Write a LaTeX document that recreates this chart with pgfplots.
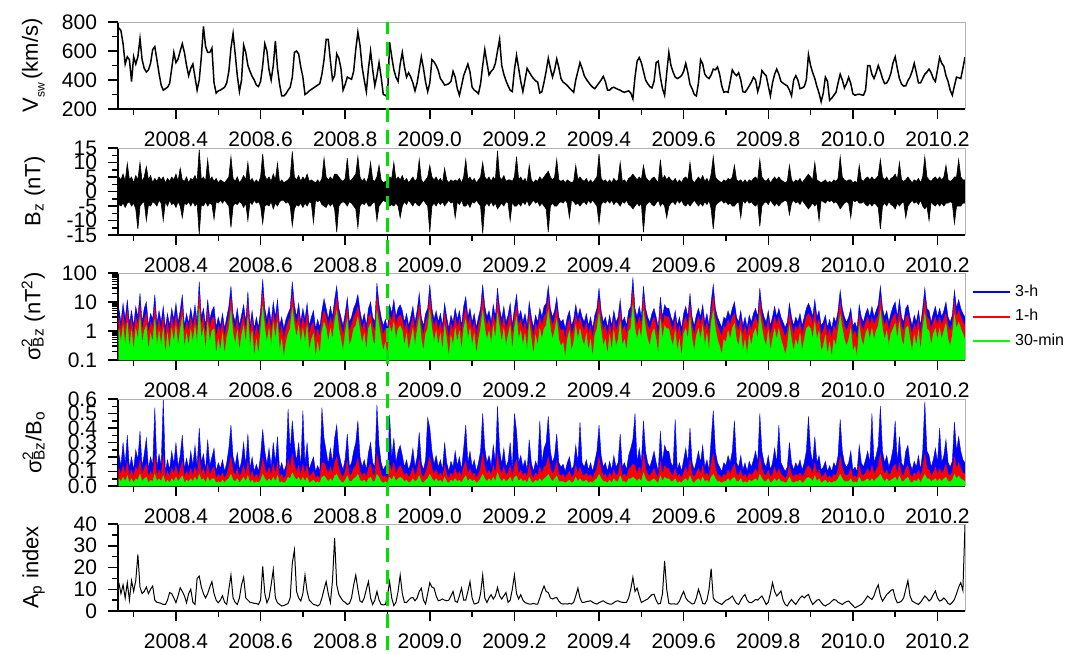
\documentclass[border=0pt]{standalone}
\usepackage{fontspec}
\setmainfont{Liberation Sans}
\usepackage{pgfplots}
\usepackage{pgfplotstable}
\pgfplotsset{compat=1.18}
\definecolor{cblue}{RGB}{0,0,255}
\definecolor{cred}{RGB}{255,0,0}
\definecolor{cgreen}{RGB}{0,255,0}
\definecolor{dgreen}{RGB}{0,225,0}

\pgfplotstableread{
t V bp bn s3 s1 s30 r3 r1 r30 ap
2008.265 760 5 -4.5 6 3 1.2 0.22 0.12 0.05 13
2008.270 740 4 -5 2 1 0.4 0.14 0.08 0.03 8
2008.275 650 6 -4 9 4 1.5 0.3 0.14 0.06 12
2008.280 510 3.5 -5.5 2.5 1.2 0.3 0.15 0.08 0.03 6
2008.285 560 9.7 -4 12 5 2 0.35 0.16 0.07 13
2008.290 540 4 -3.5 1.8 0.9 0.25 0.12 0.06 0.02 5
2008.295 390 5 -5 5 2.5 1 0.2 0.11 0.05 14
2008.300 560 3 -4 1.5 0.7 0.2 0.11 0.06 0.02 9
2008.305 510 5.5 -6 7 3 1.2 0.25 0.13 0.05 14
2008.310 560 4 -13 3 1.5 0.5 0.18 0.1 0.04 26
2008.315 685 10 -5 20 8 3 0.38 0.18 0.08 11
2008.320 540 3.5 -4 2 1 0.35 0.13 0.07 0.03 8
2008.325 480 5 -3.5 6 2.5 1 0.22 0.12 0.05 9
2008.330 455 8.6 -10 10 4 1.5 0.33 0.15 0.06 11
2008.335 470 4 -4.5 1.5 0.8 0.2 0.12 0.06 0.02 8
2008.340 515 5.5 -5 4 2 0.8 0.2 0.1 0.04 10
2008.345 610 3 -3.5 2.5 1.2 0.4 0.14 0.07 0.03 11.5
2008.350 630 4.5 -4 18 7 2.5 0.54 0.2 0.08 5
2008.355 540 3.5 -5 1.8 0.9 0.3 0.13 0.07 0.03 4
2008.360 445 5 -3 5 2.5 1 0.22 0.11 0.05 3.8
2008.365 365 4 -4 2 1 0.3 0.14 0.07 0.03 3.5
2008.370 330 5 -10 7 3 1.2 0.6 0.2 0.07 3
2008.375 340 3 -3.5 1.2 0.6 0.15 0.1 0.05 0.02 3
2008.380 350 4.5 -5 4 2 0.8 0.18 0.1 0.04 5
2008.385 375 3.5 -3 1.5 0.7 0.2 0.11 0.06 0.02 8.5
2008.390 480 5 -4.5 6 3 1.2 0.24 0.12 0.05 8
2008.395 590 4 -4 2.5 1.2 0.4 0.15 0.08 0.03 6
2008.400 520 6 -5.5 9 3.5 1.5 0.3 0.14 0.06 3.8
2008.405 545 3.5 -3.5 2 1 0.3 0.13 0.07 0.03 7
2008.410 600 8 -5 5 2.5 1 0.21 0.11 0.05 10.7
2008.415 650 4 -9 18 7 3 0.35 0.17 0.07 9
2008.420 590 3.5 -4 1.5 0.8 0.25 0.12 0.06 0.02 7
2008.425 500 5 -4.5 4 2 0.8 0.19 0.1 0.04 3.8
2008.430 430 3 -3.5 1.8 0.9 0.3 0.12 0.07 0.03 8
2008.435 480 4.5 -5 6 3 1.1 0.24 0.12 0.05 10
2008.440 510 4 -3.5 2.2 1.1 0.4 0.14 0.07 0.03 4
2008.445 420 5.5 -5 8 3.5 1.5 0.28 0.13 0.06 3
2008.450 330 3.5 -4 2 1 0.35 0.13 0.07 0.03 15
2008.455 400 14.4 -14.7 50 18 6 0.4 0.2 0.08 16
2008.460 560 4 -4.5 3 1.5 0.5 0.16 0.08 0.04 11
2008.465 770 5 -5 6 3 1.2 0.22 0.12 0.05 8
2008.470 630 3.5 -3.5 1.5 0.7 0.2 0.11 0.06 0.02 6
2008.475 590 11 -5 12 5 2 0.32 0.15 0.06 8
2008.480 590 4 -4 2.5 1.2 0.4 0.14 0.07 0.03 11
2008.485 620 5 -4.5 5 2.5 1 0.2 0.11 0.05 13.5
2008.490 380 3.5 -9.5 7 3 1.2 0.26 0.13 0.05 8
2008.495 310 4.5 -3.5 1.3 0.6 0.15 0.1 0.05 0.02 5
2008.500 325 3 -4 3 1.5 0.5 0.16 0.08 0.03 3.8
2008.505 330 4 -3 1.5 0.8 0.2 0.12 0.06 0.02 5
2008.510 340 3.5 -4 4 2 0.8 0.18 0.09 0.04 7
2008.515 350 3 -3 1.2 0.6 0.15 0.1 0.05 0.02 4
2008.520 380 4 -4 3 1.5 0.6 0.16 0.08 0.04 3
2008.525 460 5 -5 7 3 1.2 0.26 0.13 0.05 10
2008.530 620 12 -12.4 35 14 5 0.42 0.2 0.08 16.5
2008.535 720 4.5 -5 4 2 0.8 0.2 0.1 0.04 6
2008.540 580 3.5 -4 2 1 0.35 0.14 0.07 0.03 4
2008.545 430 5 -4.5 6 2.5 1 0.23 0.12 0.05 3
2008.550 320 3 -3.5 1.5 0.7 0.2 0.11 0.06 0.02 6
2008.555 400 4 -4 3.5 1.8 0.7 0.17 0.09 0.04 12
2008.560 640 5.5 -5.5 8 3.5 1.5 0.3 0.14 0.06 15.5
2008.565 590 4 -4 2 1 0.35 0.14 0.07 0.03 6
2008.570 500 10 -10 23 9 3 0.36 0.17 0.07 5
2008.575 460 3.5 -3.5 1.5 0.8 0.25 0.12 0.06 0.02 4
2008.580 425 4.5 -4.5 5 2.5 1 0.2 0.1 0.04 3.8
2008.585 400 3 -3 1.2 0.5 0.12 0.1 0.05 0.02 3.5
2008.590 365 4 -4 3 1.5 0.5 0.15 0.08 0.03 3.5
2008.595 355 3 -3.5 1.3 0.6 0.15 0.1 0.05 0.02 3
2008.600 390 5 -5 5 2.5 1 0.21 0.1 0.04 5
2008.605 500 13 -11 60 20 7 0.39 0.19 0.08 20.5
2008.610 650 5.5 -5 6 3 1.2 0.24 0.12 0.05 8
2008.615 600 4 -4.5 2.5 1.2 0.4 0.15 0.08 0.03 3.8
2008.620 470 5 -5 7 3 1.2 0.26 0.13 0.05 6
2008.625 400 3.5 -3.5 2 1 0.3 0.13 0.07 0.03 12
2008.630 500 6 -6 10 4 1.8 0.3 0.15 0.06 19
2008.635 670 4 -4 3 1.5 0.5 0.16 0.08 0.03 6
2008.640 480 9.7 -5 12 5 2 0.34 0.16 0.07 3.8
2008.645 370 3 -3.5 1.5 0.7 0.2 0.11 0.06 0.02 3
2008.650 290 4 -3 3 1.5 0.5 0.16 0.08 0.03 2.3
2008.655 290 3 -3 1.2 0.5 0.12 0.1 0.05 0.02 2.5
2008.660 305 3.5 -4 2.5 1.2 0.4 0.14 0.07 0.03 3
2008.665 330 4 -3.5 4 2 0.8 0.53 0.18 0.06 3.5
2008.670 350 5 -5 6 3 1.2 0.24 0.12 0.05 6
2008.675 420 13.8 -11.8 50 18 6 0.45 0.22 0.09 22
2008.680 590 5 -6 8 3.5 1.5 0.28 0.14 0.06 28
2008.685 600 4 -4.5 3 1.5 0.6 0.17 0.09 0.04 9
2008.690 580 5.5 -5 9 4 1.5 0.3 0.14 0.06 6
2008.695 490 3.5 -4 2 1 0.35 0.13 0.07 0.03 4.6
2008.700 420 5 -5.5 6 3 1.2 0.52 0.15 0.06 8
2008.705 300 4 -4 2.5 1.2 0.4 0.15 0.08 0.03 16.5
2008.710 310 6 -5 9 4 1.5 0.3 0.14 0.06 9
2008.715 325 3.5 -3.5 1.5 0.7 0.2 0.11 0.06 0.02 5
2008.720 335 4 -4 3 1.5 0.5 0.16 0.08 0.03 4
2008.725 345 3.5 -10.7 5 2 0.8 0.2 0.1 0.04 3
2008.730 355 3 -3 1.2 0.5 0.12 0.1 0.05 0.02 2.8
2008.735 365 4 -3.5 2.5 1.2 0.4 0.14 0.07 0.03 2.3
2008.740 375 3 -3 1.3 0.6 0.15 0.1 0.05 0.02 3
2008.745 440 4.5 -4.5 5 2.5 1 0.54 0.16 0.06 6
2008.750 540 11.5 -5 13 5 2 0.33 0.16 0.07 10
2008.755 680 5 -5.5 6 3 1.2 0.24 0.12 0.05 13.5
2008.760 680 4 -4 2.5 1.2 0.4 0.15 0.08 0.03 8
2008.765 535 5 -5 7 3 1.2 0.26 0.13 0.05 3.8
2008.770 400 4 -4 3 1.5 0.5 0.16 0.08 0.03 14
2008.775 430 6 -6 12 5 2 0.33 0.16 0.07 33.5
2008.780 580 6 -14 35 14 5 0.42 0.2 0.08 12
2008.785 550 5 -5 6 3 1.2 0.23 0.12 0.05 7.6
2008.790 480 4 -4 3 1.5 0.5 0.16 0.08 0.03 6
2008.795 330 3.5 -3.5 1.5 0.7 0.2 0.11 0.06 0.02 4.6
2008.800 370 4.5 -4 4 2 0.8 0.19 0.1 0.04 4
2008.805 420 11.5 -5 14 6 2.5 0.36 0.17 0.07 3
2008.810 412 3.5 -3.5 2 1 0.3 0.13 0.07 0.03 3.5
2008.815 405 4 -4 3 1.5 0.5 0.16 0.08 0.03 6
2008.820 460 5 -5 6 3 1.2 0.24 0.12 0.05 12
2008.825 610 6 -6 9 4 1.5 0.3 0.14 0.06 16.5
2008.830 730 12 -12.4 18 7 3 0.45 0.19 0.08 10
2008.835 640 5 -5 5 2.5 1 0.2 0.1 0.04 4.6
2008.840 490 3.5 -4 2 1 0.35 0.13 0.07 0.03 4
2008.845 400 4.5 -4.5 4 2 0.8 0.18 0.09 0.04 6
2008.850 320 3 -3.5 1.5 0.7 0.2 0.11 0.06 0.02 10
2008.855 480 5 -5 6 3 1.2 0.23 0.12 0.05 13.5
2008.860 600 10 -5 10 4 1.8 0.3 0.15 0.06 6
2008.865 470 4 -4 3 1.5 0.5 0.16 0.08 0.03 3
2008.870 360 3.5 -3.5 2 1 0.3 0.13 0.07 0.03 5
2008.875 430 5 -10 45 16 5 0.56 0.22 0.08 9
2008.880 520 9 -5 8 3.5 1.5 0.28 0.14 0.06 5
2008.885 420 4 -4 3 1.5 0.5 0.16 0.08 0.03 3
2008.890 300 3 -3 1.5 0.7 0.2 0.11 0.06 0.02 2.8
2008.895 295 3.5 -3.5 2.5 1.2 0.4 0.14 0.07 0.03 3
2008.900 280 3 -3 1.2 0.5 0.12 0.1 0.05 0.02 7
2008.905 660 5 -5 8 3.5 1.5 0.49 0.15 0.06 13.5
2008.910 560 4.5 -4.5 4 2 0.8 0.19 0.1 0.04 6
2008.915 470 10 -5 12 5 2 0.33 0.16 0.07 2.5
2008.920 420 4 -4 3 1.5 0.5 0.16 0.08 0.03 4
2008.925 390 5 -5 6 3 1.2 0.24 0.12 0.05 9
2008.930 510 4 -9 8 3.5 1.5 0.28 0.14 0.06 16.5
2008.935 590 5.5 -5 5 2.5 1 0.21 0.11 0.05 8
2008.940 490 3.5 -3.5 2 1 0.3 0.13 0.07 0.03 4
2008.945 420 4.5 -4.5 4 2 0.8 0.18 0.09 0.04 3.9
2008.950 450 3 -3 1.5 0.7 0.2 0.11 0.06 0.02 5
2008.955 420 4 -4 3 1.5 0.5 0.16 0.08 0.03 6
2008.960 380 5 -5 7 3 1.2 0.26 0.13 0.05 6.2
2008.965 325 3.5 -3.5 2 1 0.3 0.13 0.07 0.03 4.7
2008.970 380 4.5 -4.5 5 2.5 1 0.2 0.1 0.04 6
2008.975 470 11 -5 20 8 3 0.37 0.18 0.07 9
2008.980 560 4 -4 3 1.5 0.5 0.16 0.08 0.03 10.5
2008.985 480 3 -3 1.5 0.7 0.2 0.11 0.06 0.02 5
2008.990 385 4 -4 4 2 0.8 0.18 0.09 0.04 3.2
2008.995 320 5 -5 6 3 1.2 0.47 0.14 0.05 8
2009.000 380 9 -14 40 15 5 0.4 0.2 0.08 13
2009.005 540 5 -5 6 3 1.2 0.24 0.12 0.05 11
2009.010 525 4 -4 2.5 1.2 0.4 0.15 0.08 0.03 10.5
2009.015 500 5 -5 5 2.5 1 0.21 0.11 0.05 7
2009.020 465 3.5 -3.5 2 1 0.3 0.13 0.07 0.03 4.7
2009.025 410 4.5 -4.5 4 2 0.8 0.18 0.09 0.04 5
2009.030 390 3 -3.5 1.5 0.7 0.2 0.11 0.06 0.02 5.5
2009.035 365 8 -5 9 4 1.5 0.3 0.14 0.06 5
2009.040 368 4 -4 3 1.5 0.5 0.16 0.08 0.03 4.7
2009.045 375 3 -3 1.2 0.5 0.12 0.1 0.05 0.02 5
2009.050 390 4 -4 3.5 1.8 0.7 0.17 0.09 0.04 7
2009.055 460 3.5 -3.5 2 1 0.3 0.13 0.07 0.03 9
2009.060 420 4 -9 6 3 1.2 0.24 0.12 0.05 4.5
2009.065 340 3.5 -3.5 2.5 1.2 0.4 0.14 0.07 0.03 4
2009.070 295 4.5 -4.5 5 2.5 1 0.2 0.1 0.04 7
2009.075 360 3 -3 1.5 0.7 0.2 0.11 0.06 0.02 10.5
2009.080 430 5 -5 7 3 1.2 0.26 0.13 0.05 5
2009.085 470 11 -5 15 6 2.5 0.42 0.17 0.07 5
2009.090 510 4 -4 3 1.5 0.5 0.16 0.08 0.03 9
2009.095 455 5 -5.5 6 3 1.2 0.24 0.12 0.05 13.5
2009.100 350 3.5 -3.5 2 1 0.3 0.13 0.07 0.03 6
2009.105 330 4.5 -4 4 2 0.8 0.18 0.09 0.04 3.2
2009.110 320 3 -3 1.3 0.6 0.15 0.1 0.05 0.02 3.5
2009.115 305 4 -4 3 1.5 0.5 0.16 0.08 0.03 3.9
2009.120 375 5 -5 6 3 1.2 0.24 0.12 0.05 8
2009.125 500 10 -14.5 40 15 5 0.5 0.22 0.08 16.5
2009.130 610 5 -5 7 3 1.2 0.26 0.13 0.05 6
2009.135 520 4 -4 3 1.5 0.5 0.16 0.08 0.03 3.9
2009.140 435 5 -5 5 2.5 1 0.21 0.11 0.05 6
2009.145 460 3.5 -3.5 2 1 0.35 0.14 0.07 0.03 7.5
2009.150 475 5 -5 8 3.5 1.5 0.28 0.14 0.06 5.5
2009.155 515 4 -4 3 1.5 0.5 0.16 0.08 0.03 7
2009.160 600 14 -6 30 12 4 0.55 0.22 0.09 10.8
2009.165 680 5 -5 6 3 1.2 0.25 0.12 0.05 7
2009.170 500 4 -4 2.5 1.2 0.4 0.15 0.08 0.03 5.5
2009.175 440 5.5 -5 7 3 1.2 0.26 0.13 0.05 7
2009.180 395 3.5 -3.5 2 1 0.3 0.13 0.07 0.03 8.5
2009.185 360 4 -4 3.5 1.8 0.7 0.17 0.09 0.04 4
2009.190 330 4 -10 9 4 1.5 0.3 0.14 0.06 5
2009.195 320 3.5 -3.5 1.5 0.7 0.2 0.11 0.06 0.02 10
2009.200 470 5 -5 6 3 1.2 0.5 0.14 0.06 16.5
2009.205 570 12 -5 18 7 3 0.38 0.18 0.07 8
2009.210 480 4 -4 3 1.5 0.5 0.16 0.08 0.03 5.5
2009.215 390 5 -5 5 2.5 1 0.21 0.11 0.05 7.5
2009.220 320 3.5 -3.5 2 1 0.3 0.13 0.07 0.03 5
2009.225 400 4.5 -4.5 4 2 0.8 0.18 0.09 0.04 3.9
2009.230 480 3 -3 1.5 0.7 0.2 0.11 0.06 0.02 3.5
2009.235 455 9 -5 10 4 1.8 0.32 0.15 0.06 3.2
2009.240 430 4 -4 3 1.5 0.5 0.16 0.08 0.03 3.2
2009.245 410 3 -3 1.3 0.6 0.15 0.1 0.05 0.02 3.5
2009.250 395 4 -4 3.5 1.8 0.7 0.17 0.09 0.04 3.2
2009.255 385 3.5 -3.5 2 1 0.3 0.13 0.07 0.03 3.2
2009.260 310 5 -5 6 3 1.2 0.45 0.13 0.05 6
2009.265 320 4 -4 3 1.5 0.5 0.16 0.08 0.03 9
2009.270 385 5 -5 7 3 1.2 0.26 0.13 0.05 11.5
2009.275 460 6 -6 9 4 1.5 0.3 0.14 0.06 9
2009.280 550 7 -14 35 14 5 0.48 0.2 0.08 8.5
2009.285 480 5 -5 6 3 1.2 0.24 0.12 0.05 6
2009.290 420 4 -4 3 1.5 0.5 0.16 0.08 0.03 5.5
2009.295 470 5 -5 5 2.5 1 0.21 0.11 0.05 6
2009.300 545 11 -5 14 6 2.5 0.36 0.17 0.07 6.2
2009.305 485 4 -4 3 1.5 0.5 0.16 0.08 0.03 4.5
2009.310 410 3.5 -3.5 2 1 0.3 0.13 0.07 0.03 3.5
2009.315 385 4 -4 2.5 1.2 0.4 0.15 0.08 0.03 3.2
2009.320 375 3 -3 1.2 0.5 0.12 0.1 0.05 0.02 3.3
2009.325 362 4 -4 3 1.5 0.5 0.16 0.08 0.03 3.2
2009.330 345 3.5 -9 5 2.5 1 0.2 0.1 0.04 3.5
2009.335 330 3 -3 1.5 0.7 0.2 0.11 0.06 0.02 3.2
2009.340 315 3.5 -3.5 2.5 1.2 0.4 0.14 0.07 0.03 4
2009.345 400 9 -4.5 8 3.5 1.5 0.28 0.14 0.06 7
2009.350 460 4 -4 3 1.5 0.5 0.16 0.08 0.03 10.5
2009.355 520 5 -5 6 3 1.2 0.44 0.13 0.05 6
2009.360 480 4 -4 3 1.5 0.5 0.16 0.08 0.03 3.9
2009.365 430 3.5 -3.5 2 1 0.3 0.13 0.07 0.03 4
2009.370 405 4.5 -4.5 4 2 0.8 0.18 0.09 0.04 4.3
2009.375 385 3 -3 1.5 0.7 0.2 0.11 0.06 0.02 4.5
2009.380 365 4 -4 3 1.5 0.5 0.16 0.08 0.03 4.7
2009.385 350 3 -3 1.2 0.5 0.12 0.1 0.05 0.02 4
2009.390 340 4 -4 3.5 1.8 0.7 0.17 0.09 0.04 3.5
2009.395 360 5 -5 6 3 1.2 0.24 0.12 0.05 3.2
2009.400 380 13 -11 30 12 4 0.42 0.2 0.08 3.8
2009.405 400 4.5 -4.5 5 2.5 1 0.21 0.11 0.05 4.3
2009.410 425 3.5 -3.5 2 1 0.3 0.13 0.07 0.03 4.7
2009.415 390 4 -4 3 1.5 0.5 0.16 0.08 0.03 4
2009.420 330 3 -3 1.3 0.6 0.15 0.1 0.05 0.02 3.5
2009.425 330 4 -4 3.5 1.8 0.7 0.17 0.09 0.04 3.2
2009.430 345 3 -3 1.5 0.7 0.2 0.11 0.06 0.02 3.2
2009.435 350 4.5 -4.5 5 2.5 1 0.21 0.11 0.05 3.8
2009.440 342 3.5 -3.5 2 1 0.3 0.13 0.07 0.03 4.5
2009.445 335 4 -4 3 1.5 0.5 0.16 0.08 0.03 4.7
2009.450 330 10 -5 12 5 2 0.36 0.16 0.07 4.2
2009.455 320 3.5 -3.5 2 1 0.3 0.13 0.07 0.03 4
2009.460 315 4 -4 3 1.5 0.5 0.16 0.08 0.03 3.9
2009.465 320 3 -3 1.5 0.7 0.2 0.11 0.06 0.02 4
2009.470 325 4.5 -4.5 5 2.5 1 0.21 0.11 0.05 6
2009.475 310 5 -5 7 3 1.2 0.26 0.13 0.05 10
2009.480 270 6 -6 70 25 8 0.32 0.15 0.06 15.5
2009.485 420 5 -5 6 3 1.2 0.5 0.14 0.05 9
2009.490 530 4 -4 3 1.5 0.5 0.16 0.08 0.03 10.5
2009.495 555 5 -5 7 3 1.2 0.26 0.13 0.05 7
2009.500 520 4 -4 3 1.5 0.5 0.16 0.08 0.03 3.9
2009.505 460 9 -14 35 14 5 0.45 0.22 0.09 4.5
2009.510 400 5 -5 6 3 1.2 0.24 0.12 0.05 5
2009.515 375 4 -4 3 1.5 0.5 0.16 0.08 0.03 5.5
2009.520 355 3.5 -3.5 2 1 0.3 0.13 0.07 0.03 6.5
2009.525 345 4.5 -4.5 4 2 0.8 0.18 0.09 0.04 7.5
2009.530 390 5 -5 6 3 1.2 0.24 0.12 0.05 7.7
2009.535 520 4 -4 3 1.5 0.5 0.16 0.08 0.03 5
2009.540 530 3 -3 1.3 0.6 0.15 0.1 0.05 0.02 3.2
2009.545 420 11 -5 15 6 2.5 0.38 0.17 0.07 3.5
2009.550 340 4 -4 3 1.5 0.5 0.16 0.08 0.03 8
2009.555 295 5.5 -5 8 3.5 1.5 0.28 0.14 0.06 23
2009.560 450 4 -9 6 3 1.2 0.24 0.12 0.05 10
2009.565 590 5 -5 6 3 1.2 0.24 0.12 0.05 3.5
2009.570 500 4 -4 3 1.5 0.5 0.16 0.08 0.03 3.2
2009.575 455 3.5 -3.5 2 1 0.3 0.13 0.07 0.03 3.3
2009.580 420 4.5 -4.5 5 2.5 1 0.46 0.12 0.05 3.2
2009.585 410 3 -3 1.5 0.7 0.2 0.11 0.06 0.02 3.2
2009.590 418 4 -4 3 1.5 0.5 0.16 0.08 0.03 4.5
2009.595 430 3 -3 1.2 0.5 0.12 0.1 0.05 0.02 7
2009.600 460 4.5 -4.5 4 2 0.8 0.18 0.09 0.04 9
2009.605 515 5 -5 7 3 1.2 0.26 0.13 0.05 6
2009.610 450 4 -4 3 1.5 0.5 0.16 0.08 0.03 4.7
2009.615 370 10 -5 20 8 3 0.4 0.18 0.07 4
2009.620 340 4 -4 3 1.5 0.5 0.16 0.08 0.03 3.2
2009.625 300 3 -3 1.5 0.7 0.2 0.11 0.06 0.02 3.5
2009.630 290 4 -4 3.5 1.8 0.7 0.17 0.09 0.04 6
2009.635 380 5 -5 6 3 1.2 0.24 0.12 0.05 10
2009.640 540 4 -4 3 1.5 0.5 0.16 0.08 0.03 7
2009.645 510 5.5 -5 8 3.5 1.5 0.28 0.14 0.06 3.5
2009.650 440 3.5 -3.5 2 1 0.3 0.13 0.07 0.03 3.2
2009.655 420 4.5 -4.5 4 2 0.8 0.18 0.09 0.04 5
2009.660 410 3 -3 1.5 0.7 0.2 0.11 0.06 0.02 10
2009.665 435 6 -6 10 4 1.8 0.32 0.15 0.06 19.5
2009.670 475 12 -13 40 15 5 0.52 0.22 0.08 6
2009.675 470 5 -5 6 3 1.2 0.24 0.12 0.05 4.6
2009.680 490 4 -4 3 1.5 0.5 0.16 0.08 0.03 4
2009.685 440 3.5 -3.5 2 1 0.3 0.13 0.07 0.03 3.5
2009.690 360 3 -3 1.3 0.6 0.15 0.1 0.05 0.02 3
2009.695 315 4 -4 3 1.5 0.5 0.16 0.08 0.03 4
2009.700 320 3.5 -3.5 2.5 1.2 0.4 0.14 0.07 0.03 5
2009.705 315 4.5 -4.5 5 2.5 1 0.21 0.11 0.05 5.3
2009.710 390 4 -4 3 1.5 0.5 0.16 0.08 0.03 6
2009.715 470 5 -5 6 3 1.2 0.24 0.12 0.05 6.9
2009.720 445 9 -5 10 4 1.8 0.45 0.15 0.06 5
2009.725 430 4 -4 3 1.5 0.5 0.16 0.08 0.03 3.5
2009.730 450 3.5 -3.5 2 1 0.3 0.13 0.07 0.03 3
2009.735 400 4 -9 5 2.5 1 0.21 0.11 0.05 5
2009.740 320 3 -3 1.5 0.7 0.2 0.11 0.06 0.02 6.5
2009.745 315 4 -4 3 1.5 0.5 0.16 0.08 0.03 7.6
2009.750 335 3 -3 1.3 0.6 0.15 0.1 0.05 0.02 5
2009.755 360 4 -4 3.5 1.8 0.7 0.17 0.09 0.04 4
2009.760 385 3.5 -3.5 2 1 0.3 0.13 0.07 0.03 3.8
2009.765 420 4.5 -4.5 4 2 0.8 0.18 0.09 0.04 4.5
2009.770 400 5 -5 6 3 1.2 0.24 0.12 0.05 5.3
2009.775 320 4 -4 3 1.5 0.5 0.16 0.08 0.03 5
2009.780 370 11 -12 30 12 4 0.5 0.2 0.08 6
2009.785 465 5 -5 6 3 1.2 0.24 0.12 0.05 6.9
2009.790 445 4 -4 3 1.5 0.5 0.16 0.08 0.03 5
2009.795 430 3.5 -3.5 2 1 0.3 0.13 0.07 0.03 3
2009.800 360 4.5 -4.5 5 2.5 1 0.21 0.11 0.05 4
2009.805 290 3 -3 1.5 0.7 0.2 0.11 0.06 0.02 8
2009.810 380 4 -4 3 1.5 0.5 0.16 0.08 0.03 13
2009.815 440 5 -5 7 3 1.2 0.26 0.13 0.05 9
2009.820 475 4 -4 3 1.5 0.5 0.16 0.08 0.03 6.9
2009.825 440 5 -5 6 3 1.2 0.42 0.12 0.05 8
2009.830 390 4 -4 3 1.5 0.5 0.16 0.08 0.03 9.2
2009.835 378 3.5 -3.5 2 1 0.3 0.13 0.07 0.03 5
2009.840 368 3 -3 1.3 0.6 0.15 0.1 0.05 0.02 3
2009.845 360 3.5 -3.5 2 1 0.3 0.13 0.07 0.03 2.3
2009.850 330 9 -8 9 4 1.5 0.3 0.14 0.06 4
2009.855 291 4 -4 3 1.5 0.5 0.16 0.08 0.03 5.3
2009.860 400 3 -3 1.5 0.7 0.2 0.11 0.06 0.02 4
2009.865 430 4 -4 3 1.5 0.5 0.16 0.08 0.03 3
2009.870 400 3.5 -3.5 2 1 0.3 0.13 0.07 0.03 4.5
2009.875 340 4.5 -4.5 4 2 0.8 0.18 0.09 0.04 6
2009.880 345 3 -3 1.5 0.7 0.2 0.11 0.06 0.02 6.9
2009.885 355 4 -4 3 1.5 0.5 0.16 0.08 0.03 6
2009.890 400 5 -5 6 3 1.2 0.24 0.12 0.05 7
2009.895 575 6 -6 9 4 1.5 0.48 0.14 0.06 7.6
2009.900 500 5 -5 6 3 1.2 0.24 0.12 0.05 5
2009.905 450 4 -4 3 1.5 0.5 0.16 0.08 0.03 3
2009.910 410 10 -5 12 5 2 0.34 0.16 0.07 4
2009.915 355 4 -4 3 1.5 0.5 0.16 0.08 0.03 5
2009.920 310 3.5 -10 5 2.5 1 0.21 0.11 0.05 5.3
2009.925 250 3 -3 1.5 0.7 0.2 0.11 0.06 0.02 4
2009.930 310 3.5 -3.5 2 1 0.3 0.13 0.07 0.03 2.8
2009.935 420 4 -4 3.5 1.8 0.7 0.17 0.09 0.04 2.3
2009.940 390 3 -3 1.3 0.6 0.15 0.1 0.05 0.02 3
2009.945 260 3.5 -3.5 2.5 1.2 0.4 0.14 0.07 0.03 3.5
2009.950 275 3 -3 1.2 0.5 0.12 0.1 0.05 0.02 4.5
2009.955 295 4 -4 3 1.5 0.5 0.16 0.08 0.03 5.3
2009.960 314 3.5 -3.5 2 1 0.3 0.13 0.07 0.03 5
2009.965 380 4.5 -4.5 5 2.5 1 0.21 0.11 0.05 4
2009.970 440 12 -6 25 10 3.5 0.46 0.2 0.08 3.5
2009.975 400 5 -5 6 3 1.2 0.24 0.12 0.05 3
2009.980 345 4 -4 3 1.5 0.5 0.16 0.08 0.03 3.8
2009.985 375 3.5 -3.5 2 1 0.3 0.13 0.07 0.03 4.3
2009.990 419 4 -4 3 1.5 0.5 0.16 0.08 0.03 4.6
2009.995 375 4 -9 6 3 1.2 0.24 0.12 0.05 3.5
2010.000 305 3 -3 1.5 0.7 0.2 0.11 0.06 0.02 2.5
2010.005 295 3.5 -3.5 2 1 0.3 0.13 0.07 0.03 1.5
2010.010 300 3 -3 1.2 0.5 0.12 0.1 0.05 0.02 2
2010.015 302 9 -4 8 3.5 1.5 0.28 0.14 0.06 2.5
2010.020 298 4 -4 3 1.5 0.5 0.16 0.08 0.03 3
2010.025 295 3.5 -3.5 2 1 0.3 0.13 0.07 0.03 4
2010.030 330 4.5 -4.5 4 2 0.8 0.18 0.09 0.04 5.5
2010.035 500 5 -5 6 3 1.2 0.24 0.12 0.05 6.9
2010.040 500 4 -4 3 1.5 0.5 0.16 0.08 0.03 6
2010.045 440 5 -5 7 3 1.2 0.5 0.14 0.05 5.3
2010.050 410 4 -4 3 1.5 0.5 0.16 0.08 0.03 7
2010.055 450 4.5 -4.5 5 2.5 1 0.21 0.11 0.05 10
2010.060 500 5.5 -5.5 8 3.5 1.5 0.28 0.14 0.06 12
2010.065 460 11 -13 35 14 5 0.55 0.22 0.08 7
2010.070 410 5 -5 6 3 1.2 0.24 0.12 0.05 4.6
2010.075 375 4 -4 3 1.5 0.5 0.16 0.08 0.03 6
2010.080 380 5 -5 5 2.5 1 0.21 0.11 0.05 7.6
2010.085 405 3.5 -3.5 2 1 0.3 0.13 0.07 0.03 8.5
2010.090 450 4.5 -4.5 4 2 0.8 0.18 0.09 0.04 9.5
2010.095 520 5 -5 7 3 1.2 0.26 0.13 0.05 9.9
2010.100 560 6 -6 10 4 1.8 0.45 0.15 0.06 6
2010.105 480 4 -4 3 1.5 0.5 0.16 0.08 0.03 3.8
2010.110 410 10 -5 12 5 2 0.34 0.16 0.07 4
2010.115 372 4 -4 3 1.5 0.5 0.16 0.08 0.03 4.6
2010.120 358 3.5 -3.5 2 1 0.3 0.13 0.07 0.03 6
2010.125 360 4 -9 6 3 1.2 0.24 0.12 0.05 10
2010.130 395 5 -5 8 3.5 1.5 0.28 0.14 0.06 14
2010.135 420 4 -4 3 1.5 0.5 0.16 0.08 0.03 7
2010.140 460 3 -3 1.5 0.7 0.2 0.11 0.06 0.02 4.6
2010.145 515 4 -4 3.5 1.8 0.7 0.17 0.09 0.04 4
2010.150 450 3.5 -3.5 2 1 0.3 0.13 0.07 0.03 3.5
2010.155 380 4.5 -4.5 5 2.5 1 0.21 0.11 0.05 3
2010.160 380 3 -3 1.5 0.7 0.2 0.11 0.06 0.02 4
2010.165 410 5 -5 6 3 1.2 0.24 0.12 0.05 5.5
2010.170 440 12 -6 30 12 4 0.58 0.22 0.08 6.9
2010.175 455 5 -5 6 3 1.2 0.24 0.12 0.05 6
2010.180 475 4 -10 5 2.5 1 0.21 0.11 0.05 4.6
2010.185 450 3.5 -3.5 2 1 0.3 0.13 0.07 0.03 5.5
2010.190 410 4.5 -4.5 4 2 0.8 0.18 0.09 0.04 7.5
2010.195 390 5 -5 7 3 1.2 0.26 0.13 0.05 9.2
2010.200 470 4 -4 3 1.5 0.5 0.16 0.08 0.03 6
2010.205 555 5 -5 6 3 1.2 0.4 0.12 0.05 4.6
2010.210 515 4 -4 3 1.5 0.5 0.16 0.08 0.03 5
2010.215 495 5 -5 5 2.5 1 0.21 0.11 0.05 6
2010.220 430 9 -4 10 4 1.8 0.32 0.15 0.06 5
2010.225 390 4 -4 3 1.5 0.5 0.16 0.08 0.03 3.5
2010.230 330 3.5 -3.5 2 1 0.3 0.13 0.07 0.03 3
2010.235 295 4 -4 3.5 1.8 0.7 0.17 0.09 0.04 4
2010.240 360 5 -11 25 10 3.5 0.44 0.2 0.08 5.3
2010.245 420 5 -5 6 3 1.2 0.24 0.12 0.05 8
2010.250 415 11 -5 12 5 2 0.34 0.16 0.07 11
2010.255 410 5 -5 6 3 1.2 0.24 0.12 0.05 13
2010.260 480 4 -4 4 2 0.8 0.18 0.09 0.04 9.5
2010.265 558 4 -4 3 1.5 0.5 0.16 0.08 0.03 39.7
}\data

\pgfplotsset{
  panel/.style={
    scale only axis, width=423.5pt, height=43.5pt,
    anchor=north west,
    xmin=2008.263, xmax=2010.265,
    xtick={2008.4,2008.6,2008.8,2009.0,2009.2,2009.4,2009.6,2009.8,2010.0,2010.2},
    xticklabels={2008.4,2008.6,2008.8,2009.0,2009.2,2009.4,2009.6,2009.8,2010.0,2010.2},
    minor xtick={2008.3,2008.5,2008.7,2008.9,2009.1,2009.3,2009.5,2009.7,2009.9,2010.1},
    axis x line*=bottom, axis y line*=left,
    axis line style={black, line width=1pt},
    tick align=outside,
    major tick length=5pt, minor tick length=3pt,
    every tick/.style={black, line width=0.75pt},
    ticklabel style={font=\fontsize{10.5}{12}\selectfont},
    xticklabel style={yshift=-3pt},
    yticklabel style={xshift=-2pt},
    every axis y label/.style={at={(axis description cs:-0.078,0.5)}, rotate=90, anchor=south, font=\fontsize{11}{13}\selectfont},
    after end axis/.code={
      \draw[gray!60, line width=0.5pt] (rel axis cs:0,1) -- (rel axis cs:1,1) -- (rel axis cs:1,0);
    },
  }
}

\begin{document}
\begin{tikzpicture}
\path[use as bounding box] (-59pt,11pt) rectangle (477.5pt,-316pt);

% Panel 1: Vsw
\begin{axis}[panel, at={(0pt,0pt)},
  ymin=200, ymax=800, ytick={200,400,600,800}, yticklabels={200,400,600,800},
  minor ytick={300,500,700},
  ylabel={V\raisebox{-0.6ex}{\fontsize{6}{6}\selectfont sw}\,(km/s)}]
\addplot[black, line width=0.75pt] table[x=t, y=V] {\data};
\end{axis}

% Panel 2: Bz
\begin{axis}[panel, at={(0pt,-63pt)},
  ymin=-15, ymax=15, ytick={-15,-10,-5,0,5,10,15},
  yticklabels={-15,-10,-5,0,5,10,15},
  minor ytick={-12.5,-7.5,-2.5,2.5,7.5,12.5},
  ylabel={B\textsubscript{z} (nT)}]
\addplot[black, fill=black, line width=0.3pt] table[x=t, y=bp] {\data} \closedcycle;
\addplot[black, fill=black, line width=0.3pt] table[x=t, y=bn] {\data} \closedcycle;
\end{axis}

% Panel 3: sigma^2 Bz (log)
\begin{axis}[panel, at={(0pt,-125.5pt)},
  ymode=log, log origin y=infty, ymin=0.1, ymax=100, ytick={0.1,1,10,100}, yticklabels={0.1,1,10,100},
  ylabel={σ\rlap{\textsuperscript{2}}\textsubscript{Bz} (nT\textsuperscript{2})},
  legend style={at={(axis description cs:1.008,0.5)}, anchor=west, draw=none, fill=none,
    font=\fontsize{8}{9.6}\selectfont, row sep=1pt, inner sep=0pt, nodes={inner sep=2pt}},
  legend cell align=left,
  legend image code/.code={\draw[#1] (0pt,0pt) -- (18.5pt,0pt);}]
\addplot[cblue, fill=cblue, line width=0.2pt, forget plot] table[x=t, y=s3] {\data} \closedcycle;
\addplot[cred, fill=cred, line width=0.2pt, forget plot] table[x=t, y=s1] {\data} \closedcycle;
\addplot[cgreen, fill=cgreen, line width=0.2pt, forget plot] table[x=t, y=s30] {\data} \closedcycle;
\addlegendimage{cblue, line width=1pt}
\addlegendentry{3-h}
\addlegendimage{cred, line width=1pt}
\addlegendentry{1-h}
\addlegendimage{cgreen, line width=1pt}
\addlegendentry{30-min}
\end{axis}

% Panel 4: sigma^2 Bz / Bo
\begin{axis}[panel, at={(0pt,-188.5pt)},
  ymin=0, ymax=0.6, ytick={0,0.1,0.2,0.3,0.4,0.5,0.6},
  yticklabels={0.0,0.1,0.2,0.3,0.4,0.5,0.6},
  minor ytick={0.05,0.15,0.25,0.35,0.45,0.55},
  ylabel={σ\rlap{\textsuperscript{2}}\textsubscript{Bz}/B\textsubscript{o}}]
\addplot[cblue, fill=cblue, line width=0.2pt] table[x=t, y=r3] {\data} \closedcycle;
\addplot[cred, fill=cred, line width=0.2pt] table[x=t, y=r1] {\data} \closedcycle;
\addplot[cgreen, fill=cgreen, line width=0.2pt] table[x=t, y=r30] {\data} \closedcycle;
\end{axis}

% Panel 5: Ap
\begin{axis}[panel, at={(0pt,-251pt)}, clip=false,
  ymin=0, ymax=40, ytick={0,10,20,30,40}, yticklabels={0,10,20,30,40},
  minor ytick={5,15,25,35},
  ylabel={A\textsubscript{p} index}]
\addplot[black, line width=0.5pt] table[x=t, y=ap] {\data};
\addplot[dgreen, line width=1.5pt, dash pattern=on 7pt off 4pt] coordinates {(2008.9,-18) (2008.9,271)};
\end{axis}
\end{tikzpicture}
\end{document}
